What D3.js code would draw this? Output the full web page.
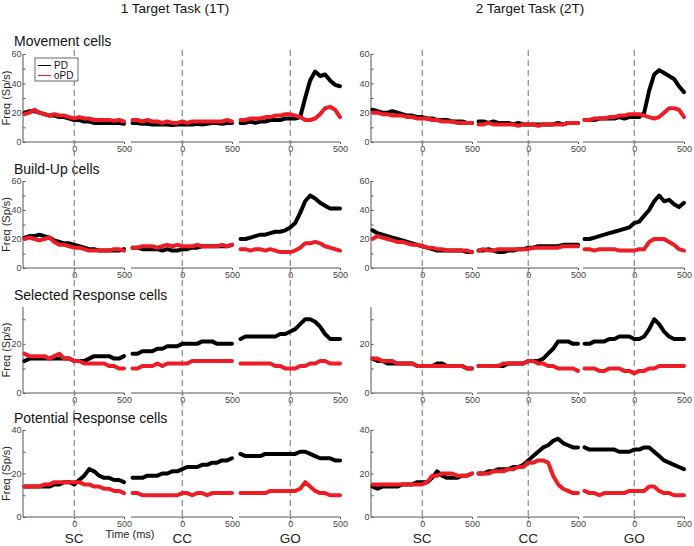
<!DOCTYPE html>
<html><head><meta charset="utf-8">
<script src="https://cdn.jsdelivr.net/npm/d3@7"></script>
<style>body{margin:0;background:#fff}svg{display:block}text{font-family:"Liberation Sans",Arial,sans-serif}</style>
</head><body><svg id="c" width="694" height="546"></svg>
<script>
const times = [-500,-450,-400,-350,-300,-250,-200,-150,-100,-50,0,50,100,150,200,250,300,350,400,450,500];
const events = ["SC","CC","GO"];
const tasks = ["1 Target Task (1T)","2 Target Task (2T)"];
const rowTitles = ["Movement cells","Build-Up cells","Selected Response cells","Potential Response cells"];
const yMax = [60,60,35,40];
const yTickLabels = [[0,20,40,60],[0,20,40,60],[0,20],[0,20,40]];
const xTickLabels = [0,500];
const seriesNames = ["PD","oPD"];

// Movement cells (SC, CC, GO)
const movement1T_PD = [
 [20,21,21,20,19,18,18,17,17,16,15,15,14,14,13,13,13,13,13,13,12.5],
 [13,13,12.5,12.5,12,12,12,12,11.5,12,12,12,12,12.5,12,12.5,13,13,12.5,13,13],
 [13,13,14,13,14,14,15,15,15,16,16,16,17,30,42,48,45,46,42,39,38]];
const movement1T_oPD = [
 [19,20,22,20,19,18,19,18,18,17,16,17,16,16,15,15,15,15,14.5,15,14],
 [15,15,14,15,14,14,13,14,13,13,14,13,14,14,14,14,14,14,14,15,14],
 [15,15,16,16,16,17,17,18,18,19,19,18,17,15,15,16,19,23,24,22,17]];
const movement2T_PD = [
 [22,21,20,20,21,20,19,18,18,17,17,16,16,15,15,15,14,14,14,13,13],
 [14,14,13,14,13,13,13,12,13,12,12,12,12,12,12,12,13,12,13,13,13],
 [15,15,15,16,16,16,16,17,16,17,17,17,20,35,46,49,47,45,43,38,34]];
const movement2T_oPD = [
 [20,20,19,19,18,18,18,17,17,16,16,16,15,15,14,14,14,13,13,13,13],
 [12,12,13,12,12,12,12,12,11,12,12,12,11,12,12,12,12,12,13,13,13],
 [15,15,16,16,16,17,17,18,18,19,19,19,18,17,16,17,20,23,23,22,17]];

// Build-Up cells
const buildup1T_PD = [
 [21,22,22,23,22,21,19,18,17,17,16,15,14,13,13,12,12,12,12,12,13],
 [14,14,13,13,13,13,12,13,12,12,13,13,14,14,15,15,15,15,15,15,16],
 [20,20,21,22,23,23,24,25,25,26,28,31,38,46,50,48,45,43,41,41,41]];
const buildup1T_oPD = [
 [20,21,20,19,20,21,18,16,16,15,14,14,13,12,12,12,12,12,13,13,12],
 [14,14,15,15,15,14,15,16,15,16,15,15,15,16,15,15,15,15,16,15,16],
 [13,13,12,13,13,12,13,12,11,11,11,12,14,17,17,18,17,15,14,13,12]];
const buildup2T_PD = [
 [26,24,23,22,21,20,19,18,17,16,15,14,13,12,12,12,12,12,12,11,11],
 [12,12,13,12,11,11,12,12,13,13,14,14,15,15,15,15,15,16,16,16,16],
 [20,20,21,22,23,24,25,26,27,28,31,32,36,40,46,50,46,47,44,42,45]];
const buildup2T_oPD = [
 [20,22,21,20,19,18,18,17,16,16,15,14,14,13,13,12,12,12,12,12,11],
 [12,13,12,12,13,13,13,13,13,13,13,14,14,14,14,14,14,15,15,15,15],
 [13,13,12,13,13,13,13,12,12,12,12,13,13,18,20,20,20,18,16,13,12]];

// Selected Response cells
const selected1T_PD = [
 [13,14,14,14,14,14,14,14,14,14,13,13,13,14,15,15,15,15,14,14,15],
 [16,16,17,17,17,18,18,19,19,19,20,20,20,20,21,21,21,20,20,20,20],
 [22,23,23,23,23,23,23,23,24,24,25,26,28,30,30,29,27,24,22,22,22]];
const selected1T_oPD = [
 [16,15,15,15,15,14,15,16,14,14,13,13,12,12,12,12,12,11,11,10,10],
 [10,10,11,11,11,12,11,12,12,12,12,12,13,13,13,13,13,13,13,13,13],
 [12,12,12,12,12,12,12,11,11,10,10,10,11,11,12,12,13,13,12,12,12]];
const selected2T_PD = [
 [14,13,13,12,12,12,12,12,12,11,11,11,11,12,12,11,11,11,11,10,10],
 [11,11,11,11,11,11,12,12,12,12,13,13,13,14,16,18,21,21,21,20,20],
 [20,20,21,21,21,22,22,23,23,23,22,22,23,26,30,28,25,23,22,22,22]];
const selected2T_oPD = [
 [14,14,13,13,13,12,12,12,12,11,11,11,11,11,11,11,11,11,11,10,10],
 [11,11,11,11,11,12,12,12,12,12,13,13,12,12,11,11,10,10,10,10,9],
 [10,10,10,9,9,10,10,10,9,9,8,9,9,10,10,11,11,11,11,11,11]];

// Potential Response cells
const potential1T_PD = [
 [14,14,14,14,14,14,15,15,16,16,15,17,19,22,21,19,18,18,17,17,16],
 [18,18,18,19,19,19,20,20,21,21,22,23,23,23,24,24,25,25,26,26,27],
 [29,28,28,28,28,29,29,29,29,29,29,29,30,30,29,28,27,27,27,26,26]];
const potential1T_oPD = [
 [14,14,14,14,15,15,16,16,16,16,16,16,15,15,14,14,13,13,12,12,11],
 [11,11,10,10,10,10,10,10,10,10,11,11,10,11,11,10,11,11,11,11,11],
 [11,11,11,11,11,11,12,12,12,12,12,12,13,16,14,12,11,11,10,10,10]];
const potential2T_PD = [
 [14,13,14,14,14,14,15,15,15,16,16,16,18,21,19,18,18,18,19,19,20],
 [20,20,21,21,22,22,22,23,23,24,26,28,30,32,33,35,36,34,33,32,32],
 [32,31,31,31,31,31,31,30,30,30,31,31,32,32,30,28,26,25,24,23,22]];
const potential2T_oPD = [
 [15,15,15,15,15,15,15,15,15,15,15,16,19,19,20,20,20,19,19,19,20],
 [20,20,20,21,21,21,22,22,23,23,25,25,26,26,25,19,15,13,12,11,11],
 [12,11,11,10,11,11,11,11,11,12,12,12,12,14,14,12,11,11,10,10,10]];

const rowData = [
 [[movement1T_PD, movement1T_oPD],[movement2T_PD, movement2T_oPD]],
 [[buildup1T_PD, buildup1T_oPD],[buildup2T_PD, buildup2T_oPD]],
 [[selected1T_PD, selected1T_oPD],[selected2T_PD, selected2T_oPD]],
 [[potential1T_PD, potential1T_oPD],[potential2T_PD, potential2T_oPD]]
];

// ---- layout ----
const svg = d3.select("#c");
const colors = ["#000000","#ee1c24"];
const axisCol = "#555";
const panelX = [[23,131,239],[371,477,583]];
const panelW = 101;
const rowY = [[142,54],[268,181],[393,307],[517,430]];
const titleY = [46,174,300,423];
const FONT = "Liberation Sans, Arial, sans-serif";

tasks.forEach((t,c)=>{
  svg.append("text").attr("x", c===0?175:530).attr("y",13).attr("text-anchor","middle")
    .attr("font-size",13.5).attr("fill","#111").text(t);
});
rowTitles.forEach((t,r)=>{
  svg.append("text").attr("x",14).attr("y",titleY[r]).attr("font-size",14).attr("fill","#111").text(t);
});

const xScales = panelX.map(cols=>cols.map(x0=>d3.scaleLinear().domain([-515,500]).range([x0,x0+panelW])));

rowData.forEach((cols,r)=>{
  const y = d3.scaleLinear().domain([0,yMax[r]]).range(rowY[r]);
  cols.forEach((pair,c)=>{
    const yAxis = d3.axisLeft(y).tickValues(d3.range(0,yMax[r]+0.1,10)).tickSize(-2.5)
      .tickFormat(v=>yTickLabels[r].includes(v)?v:"");
    const ga = svg.append("g").attr("transform",`translate(${panelX[c][0]},0)`).call(yAxis);
    ga.select(".domain").attr("stroke",axisCol).attr("d",`M0,${y(0)}V${y(yMax[r])}`);
    ga.selectAll("line").attr("stroke",axisCol);
    ga.selectAll("text").attr("fill","#444").attr("font-size",9).attr("x",-1.5)
      .style("font-family",FONT);
    events.forEach((ev,e)=>{
      const x = xScales[c][e];
      const xAxis = d3.axisBottom(x).tickValues(xTickLabels).tickSize(2);
      const gx = svg.append("g").attr("transform",`translate(0,${y(0)})`).call(xAxis);
      gx.select(".domain").attr("stroke",axisCol).attr("d",`M${x.range()[0]},0H${x.range()[1]}`);
      gx.selectAll("line").attr("stroke",axisCol);
      gx.selectAll("text").attr("fill","#444").attr("font-size",9).attr("y",3.5)
        .style("font-family",FONT);
    });
  });
  svg.append("text").attr("transform",`translate(10,${(rowY[r][0]+rowY[r][1])/2}) rotate(-90)`)
    .attr("text-anchor","middle").attr("font-size",11).attr("fill","#222").text("Freq (Sp/s)");
});

xScales.forEach(cols=>cols.forEach(x=>{
  svg.append("line").attr("x1",x(0)).attr("x2",x(0)).attr("y1",50).attr("y2",523)
    .attr("stroke","#888").attr("stroke-width",1.2).attr("stroke-dasharray","6,4");
}));

rowData.forEach((cols,r)=>{
  const y = d3.scaleLinear().domain([0,yMax[r]]).range(rowY[r]);
  cols.forEach((pair,c)=>{
    pair.forEach((series,s)=>{
      series.forEach((vals,e)=>{
        const x = xScales[c][e];
        const line = d3.line().x((d,i)=>x(times[i])).y(d=>y(d)).curve(d3.curveLinear);
        svg.append("path").attr("d",line(vals)).attr("fill","none")
          .attr("stroke",colors[s]).attr("stroke-width",4)
          .attr("stroke-linejoin","round").attr("stroke-linecap","round");
      });
    });
  });
});

const lg = svg.append("g");
lg.append("rect").attr("x",35).attr("y",58).attr("width",43).attr("height",23)
  .attr("fill","#fff").attr("stroke","#444").attr("stroke-width",0.8);
seriesNames.forEach((n,i)=>{
  lg.append("line").attr("x1",38).attr("x2",51).attr("y1",65.5+i*10).attr("y2",65.5+i*10)
    .attr("stroke",colors[i]).attr("stroke-width",1);
  lg.append("text").attr("x",54).attr("y",69+i*10).attr("font-size",10).attr("fill","#111").text(n);
});

svg.append("text").attr("x",130).attr("y",538).attr("text-anchor","middle")
  .attr("font-size",11).attr("fill","#222").text("Time (ms)");
xScales.forEach(cols=>cols.forEach((x,e)=>{
  svg.append("text").attr("x",x(0)).attr("y",543).attr("text-anchor","middle")
    .attr("font-size",13.5).attr("fill","#222").text(events[e]);
}));
</script></body></html>
